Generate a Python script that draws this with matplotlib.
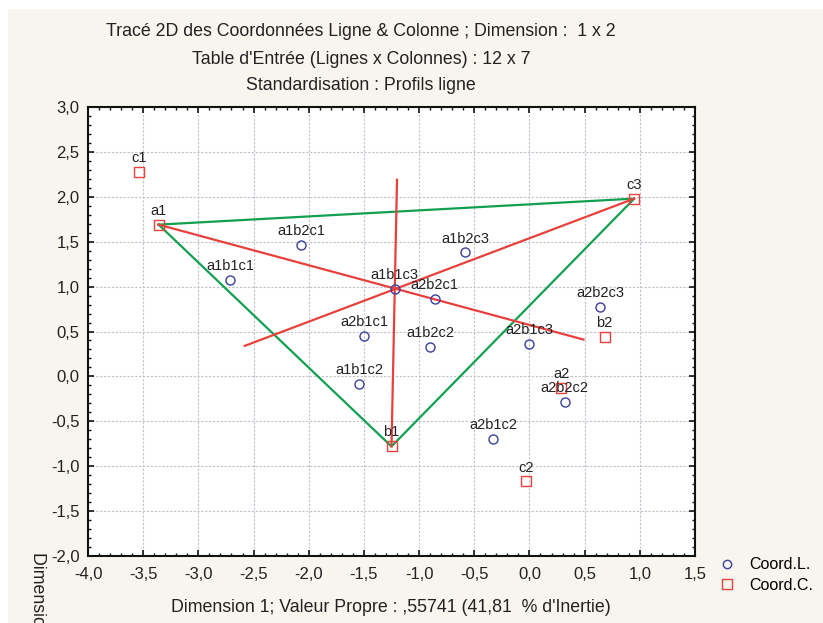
#! /usr/bin/env python3

import numpy as np
import matplotlib
matplotlib.use('Agg')
import matplotlib.pyplot as plt
from matplotlib.ticker import MultipleLocator, FuncFormatter
from matplotlib.lines import Line2D
from matplotlib.patches import Rectangle

# Row coordinates (Coord.L.)
row_labels = ['a1b1c1', 'a1b2c1', 'a1b1c3', 'a2b2c1', 'a1b2c3', 'a2b1c1',
              'a1b2c2', 'a2b1c3', 'a2b2c3', 'a1b1c2', 'a2b2c2', 'a2b1c2']
row_x = [-2.71, -2.07, -1.22, -0.86, -0.58, -1.50, -0.90, 0.00, 0.64, -1.54, 0.32, -0.33]
row_y = [1.07, 1.46, 0.97, 0.86, 1.38, 0.45, 0.33, 0.36, 0.77, -0.08, -0.29, -0.70]

# Column coordinates (Coord.C.)
col_labels = ['c1', 'a1', 'c3', 'b2', 'a2', 'b1', 'c2']
col_x = [-3.54, -3.36, 0.95, 0.68, 0.29, -1.25, -0.03]
col_y = [2.28, 1.69, 1.98, 0.44, -0.13, -0.78, -1.17]

# triangle a1 - c3 - b1 and lines through its centre
triangle = ['a1', 'c3', 'b1', 'a1']
red_start = ['a1', 'c3', 'b1']
red_end_x = [0.49, -2.58, -1.20]
red_end_y = [0.41, 0.34, 2.19]

blue = '#3a3f9e'
red = '#e8413c'
green = '#12a050'
beige = '#f8f5ef'

plt.rcParams['font.family'] = ['Liberation Sans', 'DejaVu Sans']

fig = plt.figure(figsize=(8.23, 6.23), dpi=100, facecolor='white')
fig.patches.append(Rectangle((8/823, 0), 1, 1 - 9/623, transform=fig.transFigure,
                             facecolor=beige, edgecolor='none', zorder=-10))
ax = fig.add_axes([88/823, 67/623, 607/823, 449/623])
ax.set_facecolor('white')

cx = dict(zip(col_labels, col_x))
cy = dict(zip(col_labels, col_y))

ax.plot([cx[k] for k in triangle], [cy[k] for k in triangle], color=green, lw=1.6, zorder=2)
for k, ex, ey in zip(red_start, red_end_x, red_end_y):
	ax.plot([cx[k], ex], [cy[k], ey], color=red, lw=1.6, zorder=2)

ax.plot(row_x, row_y, 'o', ms=6.5, mfc='none', mec=blue, mew=1.0, zorder=3)
ax.plot(col_x, col_y, 's', ms=7, mfc='none', mec=red, mew=1.0, zorder=3)

for lab, x, y in zip(row_labels, row_x, row_y):
	ax.annotate(lab, (x, y), xytext=(0, 5), textcoords='offset points',
		ha='center', va='bottom', fontsize=10.5, color='#222222')
for lab, x, y in zip(col_labels, col_x, col_y):
	ax.annotate(lab, (x, y), xytext=(0, 5), textcoords='offset points',
		ha='center', va='bottom', fontsize=10.5, color='#222222')

ax.set_xlim(-4.0, 1.5)
ax.set_ylim(-2.0, 3.0)
ax.xaxis.set_major_locator(MultipleLocator(0.5))
ax.yaxis.set_major_locator(MultipleLocator(0.5))
ax.xaxis.set_minor_locator(MultipleLocator(0.1))
ax.yaxis.set_minor_locator(MultipleLocator(0.1))
fmt = FuncFormatter(lambda v, p: ('%.1f' % (round(v, 1) + 0.0)).replace('-0.0', '0.0').replace('.', ','))
ax.xaxis.set_major_formatter(fmt)
ax.yaxis.set_major_formatter(fmt)
ax.tick_params(which='both', direction='in', top=True, right=True, color='#111111')
ax.tick_params(which='major', length=4, width=1.2, labelsize=12, labelcolor='#222222')
ax.tick_params(which='minor', length=2.5, width=1.0)
ax.tick_params(axis='x', which='major', pad=8)
ax.tick_params(axis='y', which='major', pad=6)
for s in ax.spines.values():
	s.set_linewidth(1.5)
	s.set_color('#111111')
ax.grid(True, which='major', linestyle=(0, (2, 1.5)), color='#c0c0cc', lw=0.8)
ax.set_axisbelow(True)

# titles
fig.text(361/823, 1 - 32/623, "Tracé 2D des Coordonnées Ligne & Colonne ; Dimension :  1 x 2",
	ha='center', va='center', fontsize=12.8, color='#222222')
fig.text(361/823, 1 - 59/623, "Table d'Entrée (Lignes x Colonnes) : 12 x 7",
	ha='center', va='center', fontsize=12.8, color='#222222')
fig.text(361/823, 1 - 85/623, "Standardisation : Profils ligne",
	ha='center', va='center', fontsize=12.8, color='#222222')

fig.text(391/823, 1 - 607/623, "Dimension 1; Valeur Propre : ,55741 (41,81  % d'Inertie)",
	ha='center', va='center', fontsize=12.8, color='#222222')
fig.text(37/823, 1 - 552/623, "Dimension 2; Valeur Propre : ,28766 (21,58  % d'Inertie)",
	rotation=-90, ha='center', va='top', fontsize=12.8, color='#222222')

handles = [Line2D([], [], ls='none', marker='o', ms=6, mfc='none', mec=blue, mew=1.0),
	Line2D([], [], ls='none', marker='s', ms=6.5, mfc='none', mec=red, mew=1.0)]
fig.legend(handles, ['Coord.L.', 'Coord.C.'], loc='upper left',
	bbox_to_anchor=(713/823, 1 - 551/623), frameon=False, fontsize=11.5,
	handlelength=1.0, handletextpad=0.9, labelspacing=0.35, borderaxespad=0)

plt.savefig('out.png', dpi=100)
plt.close()
